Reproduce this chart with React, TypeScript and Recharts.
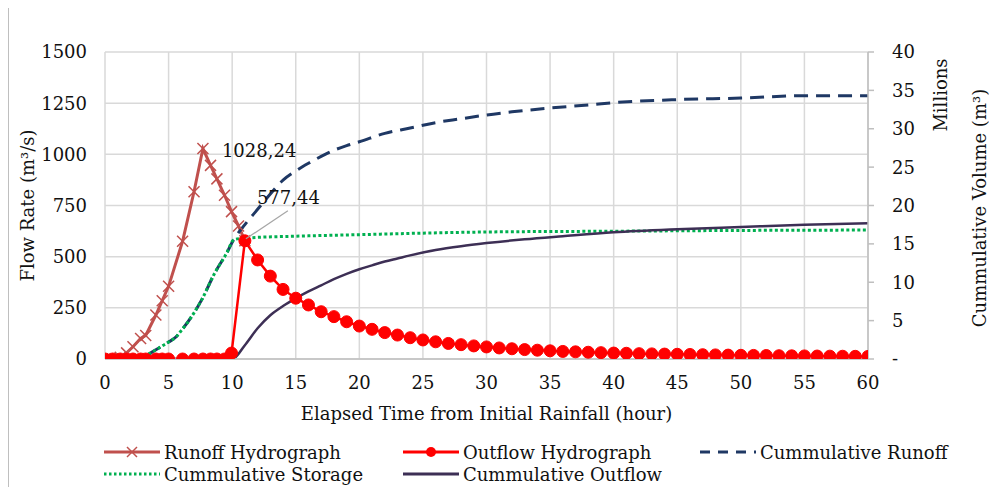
import React from 'react';
import { ComposedChart, Line, XAxis, YAxis, CartesianGrid } from 'recharts';

// ---- Data ----
const runoffHours = [0, 0.6, 1.2, 1.7, 2.2, 2.8, 3.2, 4.0, 4.5, 5.0, 6.1, 7.0, 7.7, 8.3, 8.8, 9.4, 9.95, 10.5, 11];
const runoffFlow = [0, 0, 8, 30, 60, 100, 115, 215, 285, 355, 575, 817, 1028.24, 946, 880, 800, 720, 650, 577.44];

const outflowHours = [0, 0.6, 1.2, 1.7, 2.2, 2.8, 3.2, 4.0, 4.5, 5.0, 6.1, 7.0, 7.7, 8.3, 8.8, 9.4, 9.95,
  11, 12, 13, 14, 15, 16, 17, 18, 19, 20, 21, 22, 23, 24, 25, 26, 27, 28, 29, 30,
  31, 32, 33, 34, 35, 36, 37, 38, 39, 40, 41, 42, 43, 44, 45, 46, 47, 48, 49, 50,
  51, 52, 53, 54, 55, 56, 57, 58, 59, 60];
const outflowFlow = [0, 0, 0, 0, 0, 0, 0, 0, 0, 0, 0, 0, 0, 0, 0, 0, 29,
  577.44, 484, 405, 340, 297, 264, 231, 207, 182, 161, 145, 129, 117, 104, 93, 84, 76, 70, 64, 59,
  54, 50, 46, 43, 40, 37, 35, 33, 31, 29, 28, 26, 25, 24, 23, 22, 21, 20, 19, 18,
  17.5, 17, 16, 15.5, 15, 14.5, 14, 13.5, 13, 12.5];

const cumRunoffHours = [0, 1, 2, 3, 4, 4.5, 5, 5.6, 6, 6.8, 7.6, 8.6, 9.6, 10.1, 11, 12, 13, 14, 15, 16, 17, 18, 19, 20, 22, 24, 26, 28, 30, 32, 35, 38, 40, 45, 50, 55, 60];
const cumRunoffVol = [0, 0, 0.05, 0.3, 1.2, 1.7, 2.2, 2.9, 3.7, 5.5, 7.7, 11.1, 13.9, 15.5, 17.5, 19.5, 21.5, 23.3, 24.5, 25.5, 26.4, 27.2, 27.8, 28.3, 29.4, 30.1, 30.8, 31.3, 31.8, 32.2, 32.7, 33.1, 33.4, 33.8, 34.0, 34.3, 34.3];

const cumStorageHours = [0, 1, 2, 3, 4, 4.5, 5, 5.6, 6, 6.8, 7.6, 8.6, 9.6, 10.1, 10.6, 11, 12, 15, 20, 25, 30, 40, 50, 60];
const cumStorageVol = [0, 0, 0.05, 0.3, 1.2, 1.7, 2.2, 2.9, 3.7, 5.5, 7.7, 11.1, 13.9, 15.5, 15.7, 15.75, 15.85, 16.0, 16.2, 16.4, 16.55, 16.65, 16.75, 16.8];

const cumOutflowHours = [0, 10.0, 11, 12, 13, 14, 15, 16, 17, 18, 19, 20, 21, 22, 23, 24, 26, 28, 30, 33, 36, 40, 45, 50, 55, 60];
const cumOutflowVol = [0, 0, 1.8, 4.0, 5.7, 6.9, 7.9, 8.8, 9.6, 10.4, 11.1, 11.7, 12.2, 12.7, 13.1, 13.5, 14.2, 14.7, 15.1, 15.6, 16.0, 16.5, 16.9, 17.2, 17.5, 17.7];

const xTicks = [0, 5, 10, 15, 20, 25, 30, 35, 40, 45, 50, 55, 60];
const flowTicks = [0, 250, 500, 750, 1000, 1250, 1500];
const volTicks = [0, 5, 10, 15, 20, 25, 30, 35, 40];

const seriesNames = {
  runoff: 'Runoff Hydrograph',
  outflow: 'Outflow Hydrograph',
  cumRunoff: 'Cummulative Runoff',
  cumStorage: 'Cummulative Storage',
  cumOutflow: 'Cummulative Outflow',
};

// ---- Build tables ----
const zip = (xs: number[], ys: number[]) => xs.map((x, i) => ({ x, y: ys[i] }));
const runoffData = zip(runoffHours, runoffFlow);
const outflowData = zip(outflowHours, outflowFlow);
const cumRunoffData = zip(cumRunoffHours, cumRunoffVol);
const cumStorageData = zip(cumStorageHours, cumStorageVol);
const cumOutflowData = zip(cumOutflowHours, cumOutflowVol);

const runoffPeakIdx = runoffFlow.indexOf(Math.max(...runoffFlow));
const outflowPeakIdx = outflowFlow.indexOf(Math.max(...outflowFlow));

const C_RUNOFF = '#C0504D';
const C_OUTFLOW = '#FF0000';
const C_CUMRUN = '#1F3864';
const C_STOR = '#00B050';
const C_CUMOUT = '#3D2F55';
const GRID = '#D9D9D9';
const AXIS = '#BFBFBF';
const FONT = '"DejaVu Serif", serif';
const TXT = '#111';

const fmt = (v: number) => v.toFixed(2).replace('.', ',');

const CrossDot = (props: any) => {
  const { cx, cy, index } = props;
  if (cx == null || cy == null) return <g key={`c${index}`} />;
  const s = 5.5;
  return (
    <g key={`c${index}`}>
      <line x1={cx - s} y1={cy - s} x2={cx + s} y2={cy + s} stroke={C_RUNOFF} strokeWidth={1.5} />
      <line x1={cx - s} y1={cy + s} x2={cx + s} y2={cy - s} stroke={C_RUNOFF} strokeWidth={1.5} />
    </g>
  );
};

const RoundDot = (props: any) => {
  const { cx, cy, index } = props;
  if (cx == null || cy == null) return <g key={`o${index}`} />;
  return <circle key={`o${index}`} cx={cx} cy={cy} r={6} fill={C_OUTFLOW} stroke={C_OUTFLOW} />;
};

const runoffLabel = (props: any) => {
  const { x, y, value, index } = props;
  if (index !== runoffPeakIdx) return <g key={`rl${index}`} />;
  return (
    <text key={`rl${index}`} x={x + 19} y={y + 8.5} fontFamily={FONT} fontSize={18} fill={TXT}>
      {fmt(Number(value))}
    </text>
  );
};

const outflowLabel = (props: any) => {
  const { x, y, value, index } = props;
  if (index !== outflowPeakIdx) return <g key={`ol${index}`} />;
  return (
    <g key={`ol${index}`}>
      <line x1={x + 1} y1={y - 2} x2={x + 43} y2={y - 30} stroke="#A6A6A6" strokeWidth={1.2} />
      <text x={x + 12} y={y - 37} fontFamily={FONT} fontSize={18} fill={TXT}>
        {fmt(Number(value))}
      </text>
    </g>
  );
};

const LegendIcon = ({ kind }: { kind: string }) => {
  const w = 56;
  const h = 16;
  const m = h / 2;
  if (kind === 'runoff')
    return (
      <svg width={w} height={h}>
        <line x1={0} y1={m} x2={w} y2={m} stroke={C_RUNOFF} strokeWidth={3} />
        <line x1={w / 2 - 5} y1={m - 5} x2={w / 2 + 5} y2={m + 5} stroke={C_RUNOFF} strokeWidth={1.5} />
        <line x1={w / 2 - 5} y1={m + 5} x2={w / 2 + 5} y2={m - 5} stroke={C_RUNOFF} strokeWidth={1.5} />
      </svg>
    );
  if (kind === 'outflow')
    return (
      <svg width={w} height={h}>
        <line x1={0} y1={m} x2={w} y2={m} stroke={C_OUTFLOW} strokeWidth={3} />
        <circle cx={w / 2} cy={m} r={5} fill={C_OUTFLOW} />
      </svg>
    );
  if (kind === 'cumRunoff')
    return (
      <svg width={w} height={h}>
        <line x1={0} y1={m} x2={w} y2={m} stroke={C_CUMRUN} strokeWidth={3} strokeDasharray="10 8" />
      </svg>
    );
  if (kind === 'cumStorage')
    return (
      <svg width={w} height={h}>
        <line x1={0} y1={m} x2={w} y2={m} stroke={C_STOR} strokeWidth={3} strokeDasharray="2.5 2.5" />
      </svg>
    );
  return (
    <svg width={w} height={h}>
      <line x1={0} y1={m} x2={w} y2={m} stroke={C_CUMOUT} strokeWidth={3} />
    </svg>
  );
};

const legendItems = [
  { kind: 'runoff', name: seriesNames.runoff, left: 104, top: 452 },
  { kind: 'outflow', name: seriesNames.outflow, left: 403, top: 452 },
  { kind: 'cumRunoff', name: seriesNames.cumRunoff, left: 700, top: 452 },
  { kind: 'cumStorage', name: seriesNames.cumStorage, left: 104, top: 474 },
  { kind: 'cumOutflow', name: seriesNames.cumOutflow, left: 403, top: 474 },
];

export default function App() {
  return (
    <div style={{ position: 'relative', width: 997, height: 495, margin: '-8px 0 -8px -8px', overflow: 'hidden', background: '#fff' }}>
      <div style={{ position: 'absolute', left: 0, top: 0 }}>
        <ComposedChart width={997} height={495} margin={{ top: 52, right: 0, bottom: 106, left: 0 }}>
          <CartesianGrid yAxisId="left" stroke={GRID} strokeWidth={1.5} verticalValues={xTicks} horizontalValues={flowTicks} />
          <XAxis
            type="number"
            dataKey="x"
            domain={[0, 60]}
            ticks={xTicks}
            allowDataOverflow
            height={30}
            axisLine={{ stroke: AXIS, strokeWidth: 1.5 }}
            tickLine={false}
            tickSize={6}
            tickMargin={11}
            tick={{ fontFamily: FONT, fontSize: 18, fill: TXT }}
            label={{
              content: (p: any) => {
                const vb = p.viewBox || { x: 105, y: 359, width: 763, height: 30 };
                return (
                  <text x={vb.x + vb.width / 2} y={vb.y + vb.height + 31} textAnchor="middle" fontFamily={FONT} fontSize={18} fill={TXT}>
                    Elapsed Time from Initial Rainfall (hour)
                  </text>
                );
              },
            }}
          />
          <YAxis
            yAxisId="left"
            orientation="left"
            width={105}
            domain={[0, 1500]}
            ticks={flowTicks}
            allowDataOverflow
            axisLine={false}
            tickLine={false}
            tickSize={6}
            tickMargin={12}
            tick={{ fontFamily: FONT, fontSize: 18, fill: TXT }}
            label={{
              content: () => (
                <text x={27} y={205.5} transform="rotate(-90 27 205.5)" textAnchor="middle" dominantBaseline="central" fontFamily={FONT} fontSize={18} fill={TXT}>
                  Flow Rate (m³/s)
                </text>
              ),
            }}
          />
          <YAxis
            yAxisId="right"
            orientation="right"
            width={129}
            domain={[0, 40]}
            ticks={volTicks}
            allowDataOverflow
            axisLine={{ stroke: AXIS, strokeWidth: 1.5 }}
            tickLine={{ stroke: AXIS, strokeWidth: 1.5 }}
            tickSize={6}
            tickMargin={18}
            tickFormatter={(v: number) => (v === 0 ? '-' : String(v))}
            tick={{ fontFamily: FONT, fontSize: 18, fill: TXT, textAnchor: 'start' }}
            label={{
              content: () => (
                <g>
                  <text x={940} y={95} transform="rotate(-90 940 95)" textAnchor="middle" dominantBaseline="central" fontFamily={FONT} fontSize={18} fill={TXT}>
                    Millions
                  </text>
                  <text x={979} y={208} transform="rotate(-90 979 208)" textAnchor="middle" dominantBaseline="central" fontFamily={FONT} fontSize={18} fill={TXT}>
                    Cummulative Volume (m³)
                  </text>
                </g>
              ),
            }}
          />
          <Line
            yAxisId="left"
            data={runoffData}
            dataKey="y"
            name={seriesNames.runoff}
            stroke={C_RUNOFF}
            strokeWidth={3}
            dot={CrossDot}
            activeDot={false}
            label={runoffLabel}
            isAnimationActive={false}
          />
          <Line
            yAxisId="left"
            data={outflowData}
            dataKey="y"
            name={seriesNames.outflow}
            stroke={C_OUTFLOW}
            strokeWidth={2.5}
            dot={RoundDot}
            activeDot={false}
            label={outflowLabel}
            isAnimationActive={false}
          />
          <Line
            yAxisId="right"
            data={cumRunoffData}
            dataKey="y"
            name={seriesNames.cumRunoff}
            type="monotone"
            stroke={C_CUMRUN}
            strokeWidth={3}
            strokeDasharray="14 8"
            dot={false}
            activeDot={false}
            isAnimationActive={false}
          />
          <Line
            yAxisId="right"
            data={cumStorageData}
            dataKey="y"
            name={seriesNames.cumStorage}
            type="monotone"
            stroke={C_STOR}
            strokeWidth={3}
            strokeDasharray="3 2.5"
            dot={false}
            activeDot={false}
            isAnimationActive={false}
          />
          <Line
            yAxisId="right"
            data={cumOutflowData}
            dataKey="y"
            name={seriesNames.cumOutflow}
            type="monotone"
            stroke={C_CUMOUT}
            strokeWidth={2.5}
            dot={false}
            activeDot={false}
            isAnimationActive={false}
          />
        </ComposedChart>
      </div>
      {legendItems.map((it) => (
        <div
          key={it.kind}
          style={{ position: 'absolute', left: it.left, top: it.top - 11, height: 22, display: 'flex', alignItems: 'center', fontFamily: FONT, fontSize: 18, color: TXT, whiteSpace: 'nowrap' }}
        >
          <LegendIcon kind={it.kind} />
          <span style={{ marginLeft: 4 }}>{it.name}</span>
        </div>
      ))}
      <div style={{ position: 'absolute', left: 7, top: 4, width: 1200, height: 2, background: '#BFBFBF', zIndex: 5 }} />
      <div style={{ position: 'absolute', left: 7, top: 4, width: 2, height: 700, background: '#BFBFBF', zIndex: 5 }} />
    </div>
  );
}
